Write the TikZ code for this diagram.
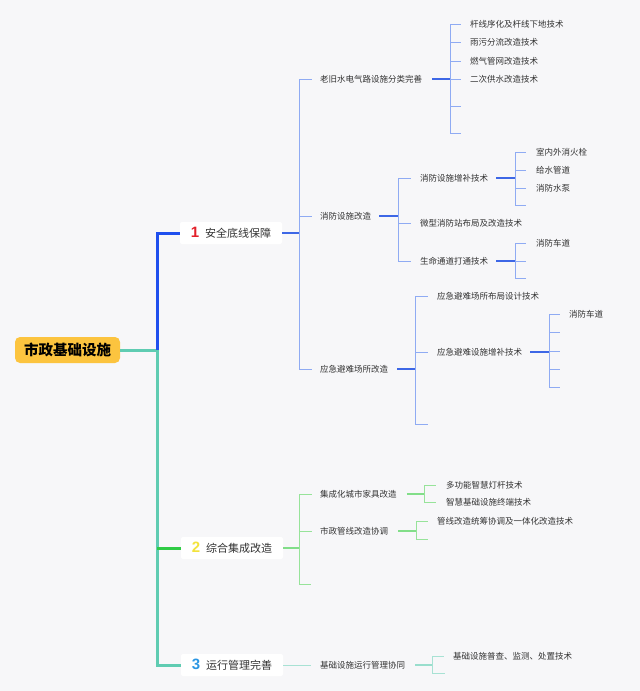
\documentclass[tikz,border=0pt]{standalone}
\usepackage{fontspec}
\setmainfont{Noto Sans CJK SC}
\newfontfamily\numfont{Liberation Sans}
\definecolor{bg}{HTML}{F7F7F9}
\definecolor{txt}{HTML}{333333}
\definecolor{rootfill}{HTML}{FCC43F}
\definecolor{bmain}{HTML}{1F4FEE}
\definecolor{bmid}{HTML}{3D67E6}
\definecolor{blight}{HTML}{8FABF3}
\definecolor{tmain}{HTML}{5FCCB2}
\definecolor{tlight}{HTML}{A8E2D4}
\definecolor{gmain}{HTML}{2FCB45}
\definecolor{glight}{HTML}{97E39A}
\definecolor{numred}{HTML}{E3202A}
\definecolor{numyel}{HTML}{F3E33C}
\definecolor{numblue}{HTML}{2B96E3}
\begin{document}
\begin{tikzpicture}[x=1pt,y=-1pt,line join=miter,
  lbl/.style={anchor=west,inner sep=0pt,font=\fontsize{8.5}{10}\selectfont,text=txt},
  rootbox/.style={fill=rootfill,rounded corners=5pt,minimum width=105pt,minimum height=26pt,inner sep=0pt,font=\fontsize{14.5}{16}\selectfont\bfseries,text=black},
  lvlbox/.style={fill=white,rounded corners=2pt,minimum width=102pt,minimum height=22pt,inner sep=0pt,font=\fontsize{11}{13}\selectfont,text=txt},
  mainb/.style={draw=bmain,line width=3pt},
  maint/.style={draw=tmain,line width=3pt},
  maing/.style={draw=gmain,line width=3pt},
  midb/.style={draw=bmid,line width=1.4pt},
  thinb/.style={draw=blight,line width=1pt},
  midg/.style={draw=glight!80!gmain,line width=1.3pt},
  thing/.style={draw=glight,line width=1pt},
  midt/.style={draw=tlight!80!tmain,line width=1.3pt},
  thint/.style={draw=tlight,line width=1pt}]
\fill[bg] (0,0) rectangle (640,691);
\useasboundingbox (0,0) rectangle (640,691);

% root and level 1
\node[rootbox] (root) at (67.5,350) {市政基础设施};
\node[lvlbox] (n1) at (231,233) {{\numfont\fontsize{15}{15}\selectfont\bfseries\color{numred}1}\hspace{6pt}安全底线保障};
\node[lvlbox] (n2) at (232,548) {{\numfont\fontsize{15}{15}\selectfont\bfseries\color{numyel}2}\hspace{6pt}综合集成改造};
\node[lvlbox] (n3) at (232,665) {{\numfont\fontsize{15}{15}\selectfont\bfseries\color{numblue}3}\hspace{6pt}运行管理完善};

\coordinate (j) at (157,350);
\draw[maint] (root.east) -- (j);
\draw[mainb] (j) |- (n1.west);
\draw[maint] (j) |- (n3.west);
\draw[maing] (j |- n2.west) -- (n2.west);

% ===== branch 1 =====
\coordinate (s1) at (299,233);
\node[lbl] (a) at (320,79) {老旧水电气路设施分类完善};
\node[lbl] (b) at (320,216) {消防设施改造};
\node[lbl] (c) at (320,369) {应急避难场所改造};
\draw[midb] (n1.east) -- (s1);
\draw[thinb] (s1 |- a.west) -- (s1 |- c.west);
\foreach \k in {a,b,c} \draw[thinb] (s1 |- \k.west) -- ([xshift=-8pt]\k.west);

% a children
\coordinate (sa) at (450,79);
\node[lbl] (a1) at (470,24) {杆线序化及杆线下地技术};
\node[lbl] (a2) at (470,42) {雨污分流改造技术};
\node[lbl] (a3) at (470,61) {燃气管网改造技术};
\node[lbl] (a4) at (470,79) {二次供水改造技术};
\coordinate (a5) at (461,106);
\coordinate (a6) at (461,133);
\draw[midb] ([xshift=10pt]a.east) -- (sa);
\draw[thinb] (sa |- a1.west) -- (sa |- a6);
\foreach \k in {a1,a2,a3,a4} \draw[thinb] (sa |- \k.west) -- ([xshift=-9pt]\k.west);
\foreach \k in {a5,a6} \draw[thinb] (sa |- \k) -- (\k);

% b children
\coordinate (sb) at (398,216);
\node[lbl] (b1) at (420,178) {消防设施增补技术};
\node[lbl] (b2) at (420,223) {微型消防站布局及改造技术};
\node[lbl] (b3) at (420,261) {生命通道打通技术};
\draw[midb] ([xshift=8pt]b.east) -- (sb);
\draw[thinb] (sb |- b1.west) -- (sb |- b3.west);
\foreach \k in {b1,b2,b3} \draw[thinb] (sb |- \k.west) -- ([xshift=-9pt]\k.west);

\coordinate (sb1) at (515,178);
\node[lbl] (b11) at (536,152) {室内外消火栓};
\node[lbl] (b12) at (536,170) {给水管道};
\node[lbl] (b13) at (536,188) {消防水泵};
\coordinate (b14) at (526,205);
\draw[midb] ([xshift=8pt]b1.east) -- (sb1);
\draw[thinb] (sb1 |- b11.west) -- (sb1 |- b14);
\foreach \k in {b11,b12,b13} \draw[thinb] (sb1 |- \k.west) -- ([xshift=-10pt]\k.west);
\draw[thinb] (sb1 |- b14) -- (b14);

\coordinate (sb3) at (515,261);
\node[lbl] (b31) at (536,243) {消防车道};
\coordinate (b32) at (526,261);
\coordinate (b33) at (526,278);
\draw[midb] ([xshift=8pt]b3.east) -- (sb3);
\draw[thinb] (sb3 |- b31.west) -- (sb3 |- b33);
\draw[thinb] (sb3 |- b31.west) -- ([xshift=-10pt]b31.west);
\foreach \k in {b32,b33} \draw[thinb] (sb3 |- \k) -- (\k);

% c children
\coordinate (sc) at (415,369);
\node[lbl] (c1) at (437,296) {应急避难场所布局设计技术};
\node[lbl] (c2) at (437,352) {应急避难设施增补技术};
\coordinate (c3) at (428,424);
\draw[midb] ([xshift=9pt]c.east) -- (sc);
\draw[thinb] (sc |- c1.west) -- (sc |- c3);
\foreach \k in {c1,c2} \draw[thinb] (sc |- \k.west) -- ([xshift=-9pt]\k.west);
\draw[thinb] (sc |- c3) -- (c3);

\coordinate (sc2) at (549,352);
\node[lbl] (c21) at (569,314) {消防车道};
\coordinate (c22) at (560,332);
\coordinate (c23) at (560,351);
\coordinate (c24) at (560,369);
\coordinate (c25) at (560,387);
\draw[midb] ([xshift=8pt]c2.east) -- (sc2);
\draw[thinb] (sc2 |- c21.west) -- (sc2 |- c25);
\draw[thinb] (sc2 |- c21.west) -- ([xshift=-9pt]c21.west);
\foreach \k in {c22,c23,c24,c25} \draw[thinb] (sc2 |- \k) -- (\k);

% ===== branch 2 =====
\coordinate (s2) at (299,548);
\node[lbl] (d) at (320,494) {集成化城市家具改造};
\node[lbl] (e) at (320,531) {市政管线改造协调};
\coordinate (f) at (311,584);
\draw[midg] (n2.east) -- (s2);
\draw[thing] (s2 |- d.west) -- (s2 |- f);
\foreach \k in {d,e} \draw[thing] (s2 |- \k.west) -- ([xshift=-8pt]\k.west);
\draw[thing] (s2 |- f) -- (f);

\coordinate (sd) at (424,494);
\node[lbl] (d1) at (446,485) {多功能智慧灯杆技术};
\node[lbl] (d2) at (446,502) {智慧基础设施终端技术};
\draw[midg] ([xshift=10pt]d.east) -- (sd);
\draw[thing] (sd |- d1.west) -- (sd |- d2.west);
\foreach \k in {d1,d2} \draw[thing] (sd |- \k.west) -- ([xshift=-10pt]\k.west);

\coordinate (se) at (416,531);
\node[lbl] (e1) at (437,521) {管线改造统筹协调及一体化改造技术};
\coordinate (e2) at (428,539);
\draw[midg] ([xshift=10pt]e.east) -- (se);
\draw[thing] (se |- e1.west) -- (se |- e2);
\draw[thing] (se |- e1.west) -- ([xshift=-9pt]e1.west);
\draw[thing] (se |- e2) -- (e2);

% ===== branch 3 =====
\node[lbl] (g) at (320,665) {基础设施运行管理协同};
\draw[thint] (n3.east) -- ([xshift=-9pt]g.west);
\coordinate (sg) at (432,665);
\node[lbl] (g1) at (453,656) {基础设施普查、监测、处置技术};
\coordinate (g2) at (445,673);
\draw[midt] ([xshift=10pt]g.east) -- (sg);
\draw[thint] (sg |- g1.west) -- (sg |- g2);
\draw[thint] (sg |- g1.west) -- ([xshift=-9pt]g1.west);
\draw[thint] (sg |- g2) -- (g2);
\end{tikzpicture}
\end{document}
